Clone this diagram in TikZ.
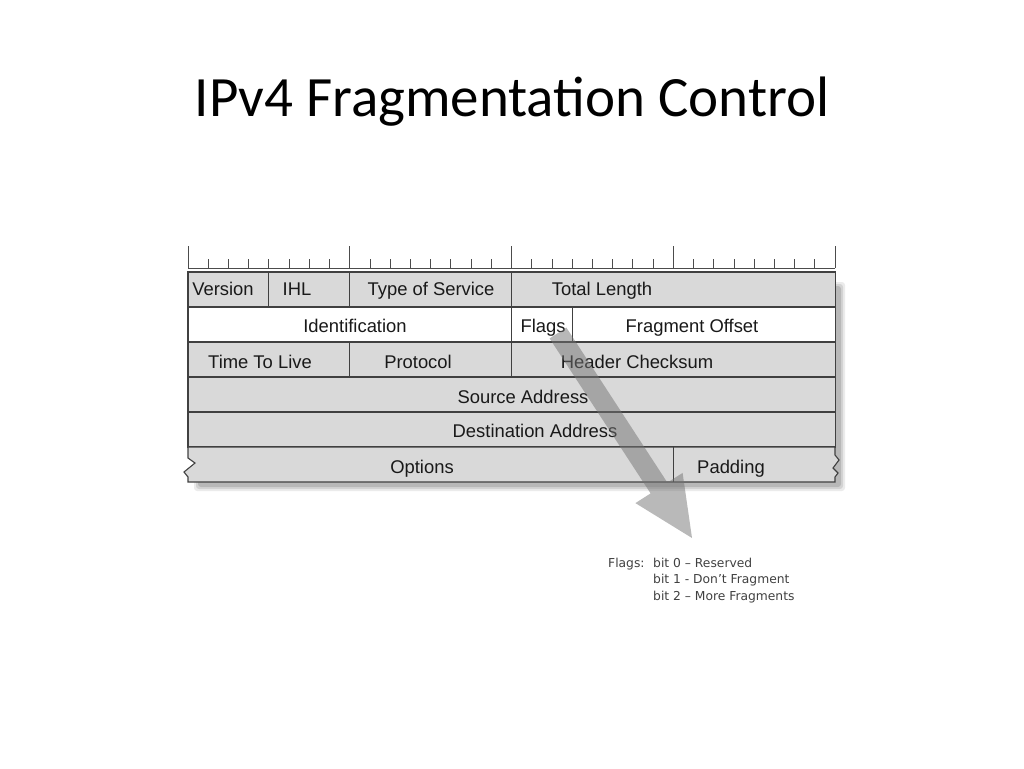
\documentclass[tikz,border=0pt]{standalone}
\usepackage{fontspec}
\setmainfont{Liberation Sans}
\newfontfamily\titlefont{Carlito}
\newfontfamily\notefont{DejaVu Sans}

\begin{document}
\begin{tikzpicture}[x=1pt,y=-1pt,
    cell/.style={draw=black!75,line width=1.1pt,fill=black!15},
    field/.style={font=\fontsize{18.4}{19}\selectfont,text=black!90,anchor=base,inner sep=0pt},
    note/.style={font=\notefont\fontsize{12.3}{13}\selectfont,text=black!75,anchor=base west,inner sep=0pt}]
  \def\bw{20.22}
  \useasboundingbox (0,0) rectangle (1024,768);
  \node[font=\titlefont\fontsize{57}{57}\selectfont,anchor=base] (title) at (512,116) {IPv4 Fragmentation Control};

  % shadow
  \foreach \s/\o in {0/0.08,2/0.10,4/0.13} \fill[black,opacity=\o,rounded corners=3pt] (194+\s,282+\s) rectangle (845-\s,491-\s);

  % ruler
  \draw[black!70,line width=0.9pt] (188,268) -- (835,268);
  \foreach \b in {0,...,32} \draw[black!70,line width=0.9pt] ({188+\b*\bw},268) -- ({188+\b*\bw},259);
  \foreach \b in {0,8,16,24,32} \draw[black!70,line width=0.9pt] ({188+\b*\bw},268) -- ({188+\b*\bw},246);

  % header rows
  \foreach \a/\b/\r/\f in {0/4/0/black!15,4/8/0/black!15,8/16/0/black!15,16/32/0/black!15,
      0/16/1/white,16/19/1/white,19/32/1/white,
      0/8/2/black!15,8/16/2/black!15,16/32/2/black!15,
      0/32/3/black!15,0/32/4/black!15}
    \draw[cell,fill=\f] ({188+\a*\bw},{272+\r*35}) rectangle ({188+\b*\bw},{272+(\r+1)*35});
  \draw[cell] (188,447) -- (835,447) -- (835,455) -- (839,460) -- (833,468) -- (838,473) -- (835,477) -- (835,482)
    -- (188,482) -- (188,477) -- (184,472) -- (195,463) -- (188,458) -- cycle;
  \draw[cell] ({188+24*\bw},447) -- ({188+24*\bw},482);

  \node[field] (version) at (223,295) {Version};
  \node[field] (ihl) at (297,295) {IHL};
  \node[field] (tos) at (431,295) {Type of Service};
  \node[field] (length) at (602,295) {Total Length};
  \node[field] (ident) at (355,332) {Identification};
  \node[field] (flags) at (543,332) {Flags};
  \node[field] (offset) at (692,332) {Fragment Offset};
  \node[field] (ttl) at (260,368) {Time To Live};
  \node[field] (proto) at (418,368) {Protocol};
  \node[field] (checksum) at (637,368) {Header Checksum};
  \node[field] (source) at (523,403) {Source Address};
  \node[field] (dest) at (535,437) {Destination Address};
  \node[field] (options) at (422,473) {Options};
  \node[field] (padding) at (731,473) {Padding};

  % arrow
  \fill[black!55,opacity=0.5] (549.6,338.4) -- (566.4,327.6) -- (667.4,482.6) -- (682.6,472.9) -- (692,538)
    -- (635.4,503.1) -- (650.6,493.4) -- cycle;

  \node[note] (flagsnote) at (608,567) {Flags:};
  \node[note] (bit0) at (653,567) {bit 0 – Reserved};
  \node[note] (bit1) at (653,583) {bit 1 - Don’t Fragment};
  \node[note] (bit2) at (653,600) {bit 2 – More Fragments};
\end{tikzpicture}
\end{document}
